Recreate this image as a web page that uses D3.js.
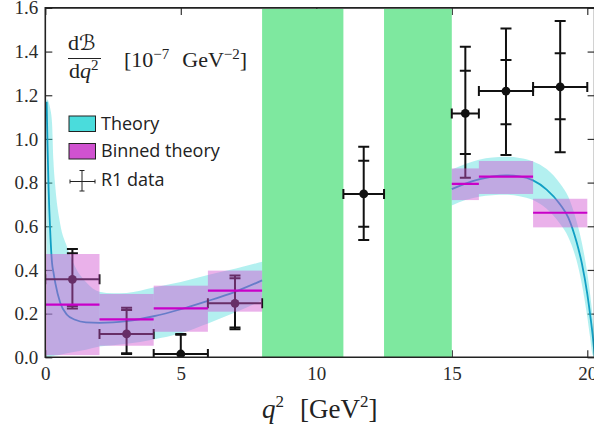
<!DOCTYPE html>
<html>
<head>
<meta charset="utf-8">
<script src="https://cdn.jsdelivr.net/npm/d3@7"></script>
<style>
  html, body { margin: 0; padding: 0; background: #fff; }
  svg { display: block; }
</style>
</head>
<body>
<script>
// ---- data -------------------------------------------------------------
// measured bins (q^2 in GeV^2) and differential branching fraction
const dataLo   = [0, 2, 4, 6, 11, 15, 16, 18];
const dataHi   = [2, 4, 6, 8, 12.5, 16, 18, 20];
const dataVal  = [0.357, 0.107, 0.015, 0.247, 0.748, 1.117, 1.219, 1.238];
const statUp   = [0.119, 0.110, 0.088, 0.115, 0.152, 0.195, 0.142, 0.154];
const statDn   = [0.122, 0.088, 0.090, 0.111, 0.150, 0.186, 0.152, 0.148];
const totUp    = [0.139, 0.120, 0.092, 0.128, 0.216, 0.305, 0.287, 0.302];
const totDn    = [0.133, 0.092, 0.100, 0.119, 0.211, 0.295, 0.293, 0.299];

// binned theory prediction
const binLo    = [0, 2, 4, 6, 15, 16, 18];
const binHi    = [2, 4, 6, 8, 16, 18, 20];
const binVal   = [0.241, 0.174, 0.224, 0.305, 0.794, 0.827, 0.662];
const binTop   = [0.473, 0.290, 0.328, 0.397, 0.865, 0.899, 0.726];
const binBot   = [0.010, 0.053, 0.117, 0.209, 0.720, 0.748, 0.595];

// continuous theory prediction, low-q^2 branch
const thLowQ   = [0.05, 0.08, 0.12, 0.18, 0.25, 0.30, 0.37, 0.55, 0.8, 1.1, 1.5, 2, 2.5, 3, 4, 5, 6, 7, 8];
const thLowC   = [1.17, 0.98, 0.78, 0.58, 0.43, 0.39, 0.34, 0.25, 0.195, 0.172, 0.160, 0.158, 0.160, 0.166, 0.188, 0.220, 0.258, 0.300, 0.352];
const thLowHi  = [1.18, 1.18, 1.17, 1.14, 1.07, 0.90, 0.78, 0.61, 0.506, 0.415, 0.345, 0.300, 0.293, 0.295, 0.320, 0.345, 0.377, 0.405, 0.438];
const thLowLo  = [0.0, 0.0, 0.0, 0.0, 0.005, 0.006, 0.008, 0.012, 0.018, 0.025, 0.035, 0.049, 0.055, 0.062, 0.082, 0.110, 0.155, 0.205, 0.260];

// continuous theory prediction, high-q^2 branch
const thHighQ  = [15, 15.5, 16, 16.5, 17, 17.5, 18, 18.5, 19, 19.3, 19.6, 19.8, 20, 20.1, 20.2, 20.28];
const thHighC  = [0.770, 0.795, 0.815, 0.828, 0.833, 0.828, 0.810, 0.768, 0.700, 0.640, 0.530, 0.430, 0.290, 0.200, 0.100, 0.0];
const thHighHi = [0.860, 0.885, 0.905, 0.915, 0.918, 0.913, 0.897, 0.862, 0.795, 0.735, 0.625, 0.525, 0.385, 0.295, 0.185, 0.090];
const thHighLo = [0.695, 0.720, 0.735, 0.742, 0.744, 0.738, 0.720, 0.680, 0.610, 0.550, 0.445, 0.335, 0.185, 0.095, 0.010, 0.0];

// charmonium veto regions
const vetoLo   = [8, 12.5];
const vetoHi   = [11, 15];

// ticks
const xTicks   = [0, 5, 10, 15, 20];
const yTicks   = [0, 0.2, 0.4, 0.6, 0.8, 1.0, 1.2, 1.4, 1.6];

// ---- layout -------------------------------------------------------------
const W = 594, H = 429;
const x = d3.scaleLinear().domain([0, 20.27]).range([45.3, 594.6]);
const y = d3.scaleLinear().domain([0, 1.6]).range([357.3, 7.9]);

const SERIF = "'Liberation Serif', 'DejaVu Serif', serif";
const SANS  = "'Open Sans', 'Noto Sans', sans-serif";
const cCyan = "#4adcdc", cMag = "#d052d0", cGreen = "#7ee89f";

const svg = d3.select("body").append("svg").attr("width", W).attr("height", H);

svg.append("defs").append("clipPath").attr("id", "plotclip")
  .append("rect")
  .attr("x", x(0)).attr("y", y(1.6))
  .attr("width", x(20.27) - x(0)).attr("height", y(0) - y(1.6));

// ---- axes (ticks only; spines drawn later) --------------------------------
function styleAxis(g) {
  g.select(".domain").remove();
  g.selectAll(".tick line").attr("stroke", "#333").attr("stroke-width", 1.2);
  g.selectAll(".tick text").attr("fill", "#2a2a2a");
  g.attr("font-family", SERIF).attr("font-size", 19);
}

svg.append("g").attr("transform", `translate(0,${y(0)})`)
  .call(d3.axisBottom(x).tickValues(xTicks).tickFormat(d3.format("d"))
        .tickSizeInner(-7).tickSizeOuter(0).tickPadding(9))
  .call(styleAxis);

svg.append("g").attr("transform", `translate(0,${y(1.6)})`)
  .call(d3.axisTop(x).tickValues(xTicks).tickFormat("")
        .tickSizeInner(-7).tickSizeOuter(0))
  .call(styleAxis);

svg.append("g").attr("transform", `translate(${x(0)},0)`)
  .call(d3.axisLeft(y).tickValues(yTicks).tickFormat(d3.format(".1f"))
        .tickSizeInner(-7).tickSizeOuter(0).tickPadding(7))
  .call(styleAxis);

svg.append("g").attr("transform", `translate(${x(20.27)},0)`)
  .call(d3.axisRight(y).tickValues(yTicks).tickFormat("")
        .tickSizeInner(-7).tickSizeOuter(0))
  .call(styleAxis);

const plot = svg.append("g").attr("clip-path", "url(#plotclip)");

// ---- veto bands ----------------------------------------------------------
plot.append("g").selectAll("rect").data(vetoLo).join("rect")
  .attr("x", (d) => x(d))
  .attr("width", (d, i) => x(vetoHi[i]) - x(d))
  .attr("y", y(1.6) + 1)
  .attr("height", y(0) - y(1.6) - 1)
  .attr("fill", cGreen);

// ---- continuous theory band and central curve -----------------------------
const area = d3.area().curve(d3.curveMonotoneX)
  .x((d) => x(d.q)).y0((d) => y(d.lo)).y1((d) => y(d.hi));
const line = d3.line().curve(d3.curveMonotoneX).x((d) => x(d.q)).y((d) => y(d.c));

const lowBranch  = thLowQ.map((q, i) => ({ q, c: thLowC[i], lo: thLowLo[i], hi: thLowHi[i] }));
const highBranch = thHighQ.map((q, i) => ({ q, c: thHighC[i], lo: thHighLo[i], hi: thHighHi[i] }));

[lowBranch, highBranch].forEach((b) => {
  plot.append("path").datum(b).attr("d", area).attr("fill", cCyan).attr("fill-opacity", 0.42);
});
[lowBranch, highBranch].forEach((b) => {
  plot.append("path").datum(b).attr("d", line)
    .attr("fill", "none").attr("stroke", "#119fc4").attr("stroke-width", 1.8);
});

// ---- data points with stat and total uncertainties -----------------------
const pts = dataVal.map((v, i) => ({
  lo: dataLo[i], hi: dataHi[i], v,
  su: statUp[i], sd: statDn[i], tu: totUp[i], td: totDn[i]
}));
const dg = plot.append("g").attr("stroke", "#111").attr("stroke-width", 2).attr("fill", "none");
pts.forEach((p) => {
  const cx = x((p.lo + p.hi) / 2), cy = y(p.v);
  const g = dg.append("g");
  // horizontal bin width
  g.append("line").attr("x1", x(p.lo)).attr("x2", x(p.hi)).attr("y1", cy).attr("y2", cy);
  g.append("line").attr("x1", x(p.lo)).attr("x2", x(p.lo)).attr("y1", cy - 5).attr("y2", cy + 5);
  g.append("line").attr("x1", x(p.hi)).attr("x2", x(p.hi)).attr("y1", cy - 5).attr("y2", cy + 5);
  // vertical total error with caps, stat error marked by inner ticks
  g.append("line").attr("x1", cx).attr("x2", cx).attr("y1", y(p.v + p.tu)).attr("y2", y(p.v - p.td));
  [p.v + p.tu, p.v - p.td, p.v + p.su, p.v - p.sd].forEach((yy) => {
    g.append("line").attr("x1", cx - 5.5).attr("x2", cx + 5.5).attr("y1", y(yy)).attr("y2", y(yy));
  });
  g.append("circle").attr("cx", cx).attr("cy", cy).attr("r", 4.4).attr("fill", "#111").attr("stroke", "none");
});

// ---- binned theory (drawn over the data) -----------------------------------
plot.append("g").selectAll("rect").data(binVal).join("rect")
  .attr("x", (d, i) => x(binLo[i]))
  .attr("width", (d, i) => x(binHi[i]) - x(binLo[i]))
  .attr("y", (d, i) => y(binTop[i]))
  .attr("height", (d, i) => y(binBot[i]) - y(binTop[i]))
  .attr("fill", cMag).attr("fill-opacity", 0.45);

plot.append("g").selectAll("line").data(binVal).join("line")
  .attr("x1", (d, i) => x(binLo[i])).attr("x2", (d, i) => x(binHi[i]))
  .attr("y1", (d) => y(d)).attr("y2", (d) => y(d))
  .attr("stroke", "#c800c8").attr("stroke-width", 2.2);

// ---- frame ----------------------------------------------------------------
const [xl, xr] = x.range(), [yb, yt] = y.range();
svg.append("path")
  .attr("d", `M${xl},${yt}H${xr}V${yb}H${xl}Z`)
  .attr("fill", "none").attr("stroke", "#222").attr("stroke-width", 1.6);

// ---- axis title ------------------------------------------------------------
const xt = svg.append("text").attr("x", 262).attr("y", 418)
  .attr("font-family", SERIF).attr("font-size", 27).attr("fill", "#222");
xt.append("tspan").attr("font-style", "italic").text("q");
xt.append("tspan").attr("font-size", 17).attr("dy", -11).text("2");
xt.append("tspan").attr("x", 300).attr("dy", 11).text("[GeV");
xt.append("tspan").attr("font-size", 17).attr("dy", -11).text("2");
xt.append("tspan").attr("dy", 11).text("]");

// ---- quantity label ------------------------------------------------------
const num = svg.append("text").attr("x", 68).attr("y", 50)
  .attr("font-family", SERIF).attr("font-size", 22).attr("fill", "#222");
num.append("tspan").text("d");
num.append("tspan").attr("font-family", "'DejaVu Sans', sans-serif").attr("font-size", 21).text("ℬ");
svg.append("line").attr("x1", 68).attr("x2", 101).attr("y1", 58.5).attr("y2", 58.5)
  .attr("stroke", "#222").attr("stroke-width", 1.1);
const den = svg.append("text").attr("x", 69).attr("y", 78)
  .attr("font-family", SERIF).attr("font-size", 22).attr("fill", "#222");
den.append("tspan").text("d");
den.append("tspan").attr("font-style", "italic").text("q");
den.append("tspan").attr("font-size", 15).attr("dy", -8).text("2");

const unit = svg.append("text").attr("x", 124).attr("y", 67)
  .attr("font-family", SERIF).attr("font-size", 22).attr("fill", "#222");
unit.append("tspan").text("[10");
unit.append("tspan").attr("font-size", 15).attr("dy", -8).text("−7");
unit.append("tspan").attr("dy", 8).attr("dx", 13).text("GeV");
unit.append("tspan").attr("font-size", 15).attr("dy", -8).text("−2");
unit.append("tspan").attr("dy", 8).text("]");

// ---- legend ----------------------------------------------------------------
const leg = svg.append("g").attr("font-family", SANS).attr("font-size", 18).attr("fill", "#222");
leg.append("rect").attr("x", 69).attr("y", 116).attr("width", 26.5).attr("height", 15.5)
  .attr("fill", cCyan).attr("stroke", "#222").attr("stroke-width", 1);
leg.append("text").attr("x", 101).attr("y", 129.5).text("Theory");
leg.append("rect").attr("x", 69).attr("y", 143.5).attr("width", 26.5).attr("height", 15.5)
  .attr("fill", cMag).attr("stroke", "#222").attr("stroke-width", 1);
leg.append("text").attr("x", 101).attr("y", 157).text("Binned theory");
const le = leg.append("g").attr("stroke", "#222").attr("stroke-width", 1);
le.append("line").attr("x1", 70).attr("x2", 95).attr("y1", 181.5).attr("y2", 181.5);
le.append("line").attr("x1", 70).attr("x2", 70).attr("y1", 179.5).attr("y2", 183.5);
le.append("line").attr("x1", 95).attr("x2", 95).attr("y1", 179.5).attr("y2", 183.5);
le.append("line").attr("x1", 82).attr("x2", 82).attr("y1", 170.5).attr("y2", 191);
le.append("line").attr("x1", 79.5).attr("x2", 84.5).attr("y1", 170.5).attr("y2", 170.5);
le.append("line").attr("x1", 79.5).attr("x2", 84.5).attr("y1", 191).attr("y2", 191);
leg.append("text").attr("x", 101).attr("y", 186).text("R1 data");
</script>
</body>
</html>
